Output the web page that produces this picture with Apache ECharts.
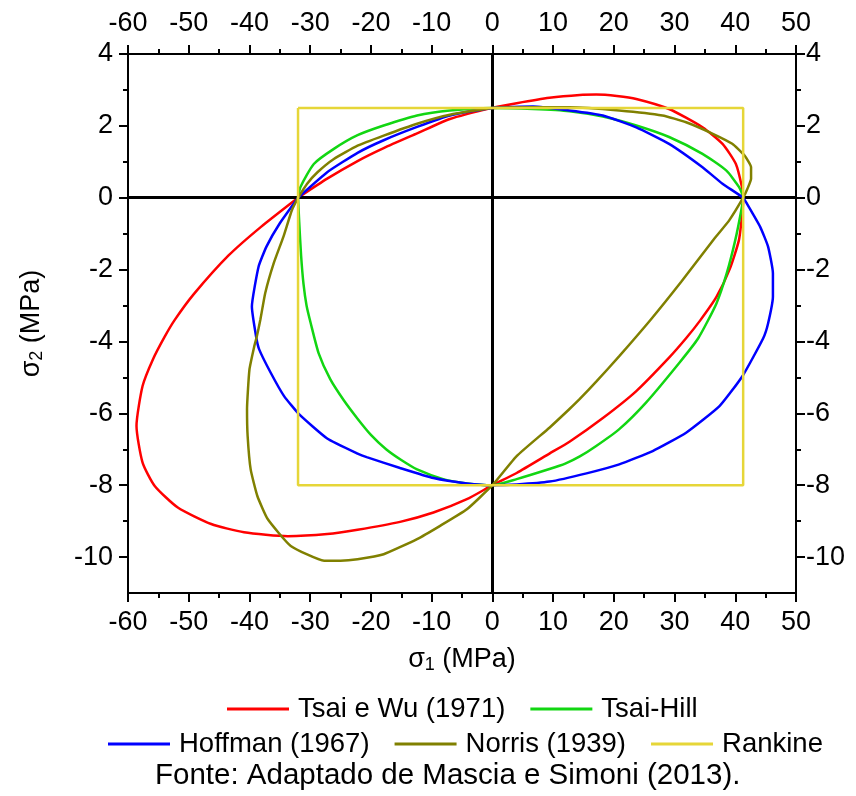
<!DOCTYPE html>
<html>
<head>
<meta charset="utf-8">
<script src="https://cdn.jsdelivr.net/npm/echarts@6/dist/echarts.min.js"></script>
<style>
html,body{margin:0;padding:0;background:#fff;}
#chart{width:856px;height:796px;}
</style>
</head>
<body>
<div id="chart"></div>
<script>
// ---- data (sigma1 [MPa], sigma2 [MPa]) ----
var seriesNames = ['Tsai e Wu (1971)', 'Tsai-Hill', 'Hoffman (1967)', 'Norris (1939)', 'Rankine'];

var tsaiWu = [[-32,0],[-27.2,0.53],[-22.2,1.02],[-17.9,1.38],[-12.4,1.79],[-7,2.19],[0,2.5],[4,2.63],[9.4,2.78],[14.4,2.86],[17.1,2.87],[20.5,2.83],[23.7,2.75],[29.1,2.47],[34.6,1.96],[37.9,1.5],[40.1,0.94],[41.1,0.3],[41.3,0],[41.2,-0.35],[40.6,-1.18],[39.1,-1.98],[36.9,-2.76],[34.2,-3.42],[32.0,-3.89],[29.1,-4.45],[23.7,-5.38],[18.2,-6.13],[12.7,-6.79],[9.4,-7.12],[4,-7.66],[0,-8],[-4.2,-8.39],[-9.7,-8.76],[-15.2,-9.02],[-22.2,-9.24],[-27.2,-9.36],[-33.7,-9.42],[-40.9,-9.31],[-46.3,-9.08],[-51.8,-8.62],[-55.6,-8.02],[-57.6,-7.37],[-58.6,-6.35],[-57.6,-5.24],[-55.9,-4.5],[-54,-3.88],[-52.3,-3.4],[-49.1,-2.67],[-43.4,-1.6],[-38.1,-0.81],[-32,0]];

var tsaiHill = [[-32,0],[-31.6,0.3],[-29.4,0.94],[-26.1,1.36],[-22.2,1.74],[-17.9,2.01],[-12.4,2.29],[-7,2.43],[0,2.5],[6.7,2.47],[12.7,2.41],[18.2,2.26],[23.7,2.01],[29.1,1.69],[34.6,1.22],[38.5,0.76],[40.6,0.3],[41.3,0],[41.0,-0.34],[40.0,-1.18],[38.6,-2.1],[36.9,-2.94],[33.9,-3.91],[30.8,-4.59],[25.3,-5.7],[20.9,-6.44],[17.1,-6.91],[14.4,-7.2],[12,-7.4],[9.4,-7.55],[4,-7.83],[0,-8],[-4.2,-7.95],[-8.1,-7.83],[-12.4,-7.56],[-15,-7.3],[-17.5,-7.0],[-20,-6.6],[-22.2,-6.15],[-24.5,-5.63],[-26.7,-5.05],[-28.6,-4.33],[-29.9,-3.5],[-30.6,-3.0],[-31.1,-2.4],[-31.5,-1.6],[-31.8,-0.7],[-32,0]];

var hoffman = [[-32,0],[-27.2,0.71],[-22.2,1.25],[-17.9,1.6],[-12.4,1.97],[-7,2.29],[0,2.5],[6.7,2.54],[12.7,2.43],[18.2,2.29],[23.7,1.96],[29.1,1.5],[34.6,0.85],[37.9,0.39],[41.3,0],[41.9,-0.16],[44.1,-0.81],[45.4,-1.36],[46.2,-2.1],[46.2,-2.75],[45.4,-3.5],[44.6,-3.91],[41.2,-4.96],[37.4,-5.8],[31.9,-6.54],[26.4,-7.05],[20.9,-7.42],[15.5,-7.67],[9.4,-7.9],[4,-7.98],[0,-8],[-4.2,-7.95],[-9.7,-7.8],[-15.2,-7.52],[-20.7,-7.22],[-22.2,-7.12],[-27.2,-6.7],[-31.8,-6.03],[-34.3,-5.52],[-36.5,-4.87],[-38.4,-4.22],[-38.9,-3.87],[-39.6,-3.03],[-38.5,-1.92],[-37.2,-1.36],[-35.0,-0.71],[-32,0]];

var norris = [[-32,0],[-30.5,0.39],[-28.8,0.71],[-26.1,1.08],[-22.2,1.45],[-17.9,1.73],[-12.4,2.06],[-7,2.31],[0,2.5],[6.7,2.52],[12.7,2.52],[20.9,2.43],[28,2.29],[31.9,2.1],[36.3,1.78],[39.5,1.5],[41.5,1.18],[42.6,0.85],[42.6,0.53],[42,0.25],[41.3,0],[39,-0.63],[36.6,-1.13],[31.1,-2.34],[26.1,-3.39],[20.9,-4.41],[17.1,-5.12],[14.4,-5.6],[12.7,-5.88],[9.4,-6.4],[4,-7.19],[0,-8],[-4.2,-8.67],[-8.6,-9.13],[-12.4,-9.5],[-17.9,-9.92],[-22.2,-10.06],[-25,-10.1],[-27.7,-10.1],[-33.2,-9.69],[-37,-8.94],[-38.7,-8.3],[-39.8,-7.56],[-40.3,-6.63],[-40.4,-5.89],[-40,-4.78],[-39.2,-4.13],[-38.8,-3.87],[-38.2,-3.39],[-37.4,-2.65],[-36,-1.82],[-34.4,-1.08],[-33,-0.34],[-32,0]];

var rankine = [[-32,2.5],[41.3,2.5],[41.3,-8],[-32,-8],[-32,2.5]];

var xTicks = [-60,-50,-40,-30,-20,-10,0,10,20,30,40,50];
var yMajor = [-10,-8,-6,-4,-2,0,2,4];
var yMinor = [-9,-7,-5,-3,-1,1,3];

var colors = ['#ff0000', '#12d612', '#0000ff', '#808000', '#e6d638'];
var FONT = 'Liberation Sans, Arial, sans-serif';
var TICK_FS = 27;

var chart = echarts.init(document.getElementById('chart'));

function xAxisDef(pos, withName) {
  var a = {
    type: 'value', position: pos, min: xTicks[0], max: xTicks[xTicks.length - 1], interval: 10,
    axisLine: {show: true, onZero: false, lineStyle: {color: '#000', width: 2}},
    axisTick: {show: true, inside: false, length: 9, lineStyle: {color: '#000', width: 2}},
    minorTick: {show: true, splitNumber: 2, length: 5, lineStyle: {color: '#000', width: 2}},
    splitLine: {show: false},
    axisLabel: {color: '#000', fontSize: TICK_FS, fontFamily: FONT, margin: pos === 'top' ? 17 : 16}
  };
  if (withName) {
    a.name = '{a|σ}{s|1}{a| (MPa)}';
    a.nameLocation = 'middle';
    a.nameGap = 52;
    a.nameTextStyle = {rich: {
      a: {fontSize: 27, fontFamily: FONT, color: '#000'},
      s: {fontSize: 18, fontFamily: FONT, color: '#000', padding: [11, 0, 0, 0]}
    }};
  }
  return a;
}
function yAxisDef(pos, major, withName) {
  var a = {
    type: 'value', position: pos, min: -11, max: 4, offset: 0,
    axisLine: {show: true, onZero: false, lineStyle: {color: '#000', width: 2}},
    axisTick: {show: true, inside: false, length: major ? 9 : 5, customValues: major ? yMajor : yMinor,
      lineStyle: {color: '#000', width: 2}},
    splitLine: {show: false},
    axisLabel: major ? {show: true, customValues: yMajor, color: '#000', fontSize: TICK_FS, fontFamily: FONT,
                        margin: pos === 'left' ? 15 : 10}
                     : {show: false}
  };
  if (withName) {
    a.name = '{a|σ}{s|2}{a| (MPa)}';
    a.nameLocation = 'middle';
    a.nameRotate = 90;
    a.nameGap = 82;
    a.nameTextStyle = {rich: {
      a: {fontSize: 27, fontFamily: FONT, color: '#000'},
      s: {fontSize: 18, fontFamily: FONT, color: '#000', padding: [11, 0, 0, 0]}
    }};
  }
  return a;
}

function curve(name, data, idx, smooth) {
  return {
    name: name, type: 'line', data: data, xAxisIndex: 0, yAxisIndex: 0,
    showSymbol: false, symbol: 'none', smooth: smooth, z: 3 + idx,
    lineStyle: {color: colors[idx], width: 2.5}, itemStyle: {color: colors[idx]},
    animation: false
  };
}

var legendText = {fontSize: 27.5, fontFamily: FONT, color: '#000', padding: [0, 0, 0, 4]};
var option = {
  backgroundColor: '#fff',
  animation: false,
  grid: {left: 128, right: 60, top: 54, bottom: 203, containLabel: false},
  xAxis: [xAxisDef('bottom', true), xAxisDef('top', false)],
  yAxis: [yAxisDef('left', true, true), yAxisDef('left', false, false),
          yAxisDef('right', true, false), yAxisDef('right', false, false)],
  legend: [
    {data: seriesNames.slice(0, 2), left: 222, top: 690, itemWidth: 62, itemHeight: 14, itemGap: 25,
     icon: 'path://M0,6 L62,6 L62,9 L0,9 Z', textStyle: legendText},
    {data: seriesNames.slice(2), left: 103, top: 725, itemWidth: 62, itemHeight: 14, itemGap: 25,
     icon: 'path://M0,6 L62,6 L62,9 L0,9 Z', textStyle: legendText}
  ],
  graphic: [{
    type: 'text', left: 155, top: 761,
    style: {text: 'Fonte: Adaptado de Mascia e Simoni (2013).', fontSize: 29.5, fontFamily: FONT, fill: '#000'}
  }],
  series: [
    {
      type: 'line', data: [], silent: true, z: 2,
      markLine: {silent: true, symbol: 'none', label: {show: false}, animation: false,
        lineStyle: {color: '#000', width: 3, type: 'solid'},
        data: [{xAxis: 0}, {yAxis: 0}]}
    },
    curve(seriesNames[0], tsaiWu, 0, 0.2),
    curve(seriesNames[1], tsaiHill, 1, 0.2),
    curve(seriesNames[2], hoffman, 2, 0.15),
    curve(seriesNames[3], norris, 3, 0.15),
    curve(seriesNames[4], rankine, 4, false)
  ]
};
chart.setOption(option);
</script>
</body>
</html>
